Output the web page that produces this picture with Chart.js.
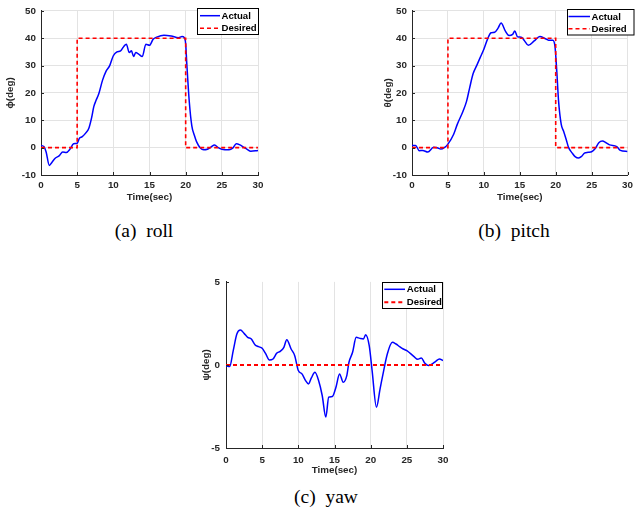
<!DOCTYPE html>
<html><head><meta charset="utf-8">
<script src="https://cdn.jsdelivr.net/npm/chart.js@4/dist/chart.umd.min.js"></script>
<style>
html,body{margin:0;padding:0;background:#fff;}
#wrap{position:relative;width:637px;height:517px;overflow:hidden;background:#fff;}
canvas{position:absolute;}
.cap{position:absolute;font-family:"Liberation Serif","Times New Roman",serif;font-size:19.5px;line-height:19.5px;white-space:pre;color:#000;transform:translateX(-50%);}
</style></head>
<body><div id="wrap">
<canvas id="ca" width="270" height="210" style="left:0;top:0"></canvas>
<canvas id="cb" width="267" height="210" style="left:370px;top:0"></canvas>
<canvas id="cc" width="270" height="210" style="left:185px;top:270px"></canvas>
<div class="cap" style="left:144px;top:221px">(a)  roll</div>
<div class="cap" style="left:514px;top:221px">(b)  pitch</div>
<div class="cap" style="left:326px;top:487px">(c)  yaw</div>
</div>
<script>
// ---- data ----
const xTicks = [0, 5, 10, 15, 20, 25, 30];
const angleYTicks = [-10, 0, 10, 20, 30, 40, 50];
const yawYTicks = [-5, 0, 5];

const rollTime = [0,0.4,0.7,1.15,1.5,2,2.5,3,3.5,4,4.5,5,5.3,5.7,6.2,6.6,7,7.3,7.6,8,8.5,9,9.5,10,10.5,11,11.5,11.8,12.2,12.5,12.8,13.1,13.5,14,14.5,15,15.5,16,17,18,19,19.5,19.8,20,20.15,20.5,20.85,21.2,21.5,22,22.5,23,23.5,24,24.5,25,26,26.5,27,27.5,28,28.5,29,30];
const rollActual = [0.8,0.4,-1.5,-6.5,-5.4,-3.8,-3,-1.6,-1.8,-0.6,1.4,1.6,3.4,4,5.4,7,11,15,17.2,19.8,24.6,28,30,33.6,35,35.4,37.2,37.8,34.8,35.4,33.3,34.8,34.2,33.3,37.8,37.4,39.6,40.4,41.1,40.8,40.2,40.6,40.3,38,31,16.8,8,4.5,2.2,0,-0.8,-0.6,0.2,1,0,-0.6,-0.8,-0.2,1.4,1,0.2,-0.6,-1.3,-1];
const rollDesiredTime = [0, 5, 5, 20, 20, 30];
const rollDesired = [0, 0, 40, 40, 0, 0];

const pitchTime = [0,0.5,1,1.5,2.2,3,3.5,4,4.5,5,5.8,6.3,7.1,7.6,8,8.5,9,9.5,10,10.5,11,11.5,12,12.4,13,13.5,14,14.3,14.7,15.2,15.6,16.2,17,17.8,18.5,19,19.6,19.9,20.15,20.4,20.77,21.1,21.46,21.8,22.3,22.7,23.2,23.6,24,24.5,25,25.5,26,26.5,27,27.5,28.5,29,30];
const pitchActual = [0.8,0.8,-1.1,-1,-1.6,0.1,0,-0.5,0,1.3,4.9,8.5,13.3,17,21.6,27,30,33,36,39.6,42,42.2,43.8,45.6,42.6,41,41.4,42.6,40.5,40.4,39.3,37.4,39,40.6,39.9,39.3,39.3,37,28,17,8.5,6,3,0,-2,-3.3,-3.8,-3.2,-2,-1.7,-1.5,-0.3,1.8,2.4,1.8,1,0.4,-1,-1.4];
const pitchDesiredTime = [0, 5, 5, 20, 20, 30];
const pitchDesired = [0, 0, 40, 40, 0, 0];

const yawTime = [0,0.5,1,1.5,2,2.5,3,3.5,4,4.5,5,5.5,6,6.5,7,7.5,8,8.4,9,9.5,10,10.5,11,11.4,11.8,12.3,12.8,13.3,13.8,14.2,14.7,15.2,15.7,16.2,16.7,17,17.5,18,18.5,19,19.3,19.8,20.2,20.8,21.3,21.8,22.3,23,23.5,24,24.5,25,26,26.5,27,27.5,28,28.5,29,29.5,30];
const yawActual = [-0.04,-0.1,0.86,1.86,2.1,1.9,1.66,1.56,1.22,1.1,1.0,0.66,0.3,0.36,0.7,0.82,1.06,1.52,0.96,0.56,-0.34,-0.54,-0.94,-1.14,-0.78,-0.44,-0.94,-1.84,-3.14,-1.94,-1.9,-1.34,-0.54,-1.04,-0.64,0.16,0.76,1.66,1.6,1.56,1.82,1.16,-0.34,-2.54,-1.44,-0.34,0.66,1.36,1.26,1.1,0.96,0.86,0.5,0.34,0.42,0.1,-0.04,0.06,0.22,0.36,0.26];
const yawDesiredTime = [0, 30];
const yawDesired = [0, 0];

// ---- styling ----
const TXT = '#262626';
const FONT = {family: '"Liberation Sans", Arial, sans-serif', size: 9.8, weight: 'bold'};
const GRID = '#e3e3e3';

const inTicks = {
  id: 'inTicks',
  afterDatasetsDraw(chart) {
    const {ctx, chartArea: a, scales: {x, y}} = chart;
    ctx.save();
    ctx.strokeStyle = TXT; ctx.lineWidth = 1;
    ctx.beginPath();
    x.ticks.forEach(t => { const p = Math.round(x.getPixelForValue(t.value)) + 0.5; ctx.moveTo(p, a.bottom); ctx.lineTo(p, a.bottom - 3); });
    y.ticks.forEach(t => { const p = Math.round(y.getPixelForValue(t.value)) + 0.5; ctx.moveTo(a.left, p); ctx.lineTo(a.left + 3, p); });
    ctx.stroke();
    ctx.restore();
  }
};

const boxLegend = {
  id: 'boxLegend',
  afterDraw(chart, args, o) {
    const ctx = chart.ctx;
    ctx.save();
    ctx.fillStyle = '#fff'; ctx.fillRect(o.x, o.y, o.w, o.h);
    ctx.strokeStyle = '#000'; ctx.lineWidth = 1; ctx.strokeRect(o.x, o.y, o.w, o.h);
    const rows = [o.r0, o.r1];
    chart.data.datasets.forEach((ds, i) => {
      const yy = rows[i];
      ctx.beginPath();
      ctx.strokeStyle = ds.borderColor; ctx.lineWidth = ds.borderWidth;
      ctx.setLineDash(ds.borderDash || []);
      ctx.moveTo(o.lx1, yy); ctx.lineTo(o.lx2, yy); ctx.stroke();
      ctx.setLineDash([]);
      ctx.fillStyle = '#000';
      ctx.font = 'bold 9.6px "Liberation Sans", Arial, sans-serif';
      ctx.textBaseline = 'middle'; ctx.textAlign = 'left';
      ctx.fillText(ds.label, o.tx, yy + 0.5);
    });
    ctx.restore();
  }
};

function pts(t, v) { return t.map((x, i) => ({x: x, y: v[i]})); }

function makeChart(id, c) {
  return new Chart(document.getElementById(id), {
    type: 'line',
    data: {datasets: [
      {label: 'Actual', data: pts(c.t, c.v), borderColor: '#0000ff', borderWidth: 1.5, pointRadius: 0, cubicInterpolationMode: 'monotone', order: 1, fill: false},
      {label: 'Desired', data: pts(c.dt, c.dv), borderColor: '#ff0000', borderWidth: c.dW, borderDash: [4, 3], pointRadius: 0, tension: 0, order: 0, fill: false}
    ]},
    options: {
      responsive: false, animation: false, devicePixelRatio: 1,
      layout: {padding: {top: c.padTop, right: c.padRight, left: 0, bottom: 0}},
      plugins: {legend: {display: false}, tooltip: {enabled: false}, boxLegend: c.legend},
      scales: {
        x: {
          type: 'linear', min: 0, max: 30,
          afterBuildTicks: s => { s.ticks = xTicks.map(v => ({value: v})); },
          afterFit: s => { s.height = c.xH; },
          grid: {color: GRID, drawTicks: false},
          border: {color: TXT},
          ticks: {font: FONT, color: TXT, padding: c.xTickPad, maxRotation: 0, autoSkip: false},
          title: {display: true, text: 'Time(sec)', font: FONT, color: TXT, padding: {top: 0, bottom: c.xTitlePad}}
        },
        y: {
          type: 'linear', min: c.yMin, max: c.yMax,
          afterBuildTicks: s => { s.ticks = c.yTicks.map(v => ({value: v})); },
          afterFit: s => { s.width = c.yW; },
          grid: {color: c.yGrid ? GRID : 'rgba(0,0,0,0)', drawTicks: false},
          border: {color: TXT},
          ticks: {font: FONT, color: TXT, padding: c.yTickPad, autoSkip: false},
          title: {display: true, text: c.yTitle, font: FONT, color: TXT, padding: {top: c.yTitlePad, bottom: 0}}
        }
      }
    },
    plugins: [inTicks, boxLegend]
  });
}

makeChart('ca', {
  t: rollTime, v: rollActual, dt: rollDesiredTime, dv: rollDesired, dW: 1.6,
  yMin: -10, yMax: 50, yTicks: angleYTicks, yTitle: 'ϕ(deg)', yGrid: true,
  padTop: 8, padRight: 12, yW: 41, xH: 35, xTickPad: 4, yTickPad: 5, xTitlePad: 7, yTitlePad: 4.1,
  legend: {x: 197.5, y: 8.5, w: 61, h: 26, r0: 15.7, r1: 28.3, lx1: 200, lx2: 220, tx: 221.5}
});
makeChart('cb', {
  t: pitchTime, v: pitchActual, dt: pitchDesiredTime, dv: pitchDesired, dW: 1.6,
  yMin: -10, yMax: 50, yTicks: angleYTicks, yTitle: 'θ(deg)', yGrid: true,
  padTop: 8, padRight: 8, yW: 42, xH: 35, xTickPad: 4, yTickPad: 5, xTitlePad: 7, yTitlePad: 12.1,
  legend: {x: 197.5, y: 9.5, w: 66.5, h: 25.5, r0: 16.5, r1: 28.7, lx1: 198.5, lx2: 220, tx: 221.5}
});
makeChart('cc', {
  t: yawTime, v: yawActual, dt: yawDesiredTime, dv: yawDesired, dW: 2,
  yMin: -5, yMax: 5, yTicks: yawYTicks, yTitle: 'ψ(deg)', yGrid: false,
  padTop: 11, padRight: 12, yW: 41, xH: 32, xTickPad: 6, yTickPad: 6, xTitlePad: 4, yTitlePad: 15.6,
  legend: {x: 197.5, y: 12.5, w: 60, h: 26, r0: 19.3, r1: 32.3, lx1: 199.3, lx2: 220, tx: 221.7}
});
</script>
</body></html>
